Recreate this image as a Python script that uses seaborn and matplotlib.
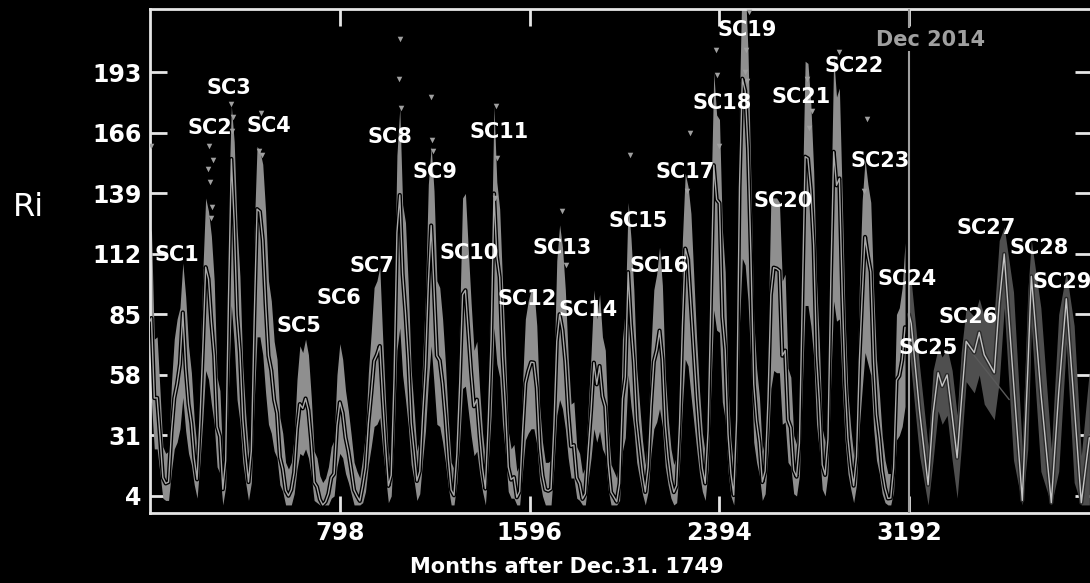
import matplotlib
matplotlib.use("Agg")
import matplotlib.pyplot as plt
import matplotlib.patheffects as pe
import seaborn as sns

# ---------------- data ----------------
years = list(range(1749, 2015))
ri_mean = [
    80.9, 83.4, 47.7, 47.8, 30.7, 12.2, 9.6, 10.2, 32.4, 47.6,
    54.0, 62.9, 85.9, 61.2, 45.1, 36.4, 20.9, 11.4, 37.8, 69.8,
    106.1, 100.8, 81.6, 66.5, 34.8, 30.6, 7.0, 19.8, 92.5, 154.4,
    125.9, 84.8, 68.1, 38.5, 22.8, 10.2, 24.1, 82.9, 132.0, 130.9,
    118.1, 89.9, 66.6, 60.0, 46.9, 41.0, 21.3, 16.0, 6.4, 4.1,
    6.8, 14.5, 34.0, 45.0, 43.1, 47.5, 42.2, 28.1, 10.1, 8.1,
    2.5, 0.0, 1.4, 5.0, 12.2, 13.9, 35.4, 45.8, 41.0, 30.1,
    23.9, 15.6, 6.6, 4.0, 1.8, 8.5, 16.6, 36.3, 49.6, 64.2,
    67.0, 70.9, 47.8, 27.5, 8.5, 13.2, 56.9, 121.5, 138.3, 103.2,
    85.7, 64.6, 36.7, 24.2, 10.7, 15.0, 40.1, 61.5, 98.5, 124.7,
    96.3, 66.6, 64.5, 54.1, 39.0, 20.6, 6.7, 4.3, 22.7, 54.8,
    93.8, 95.8, 77.2, 59.1, 44.0, 47.0, 30.5, 16.3, 7.3, 37.6,
    74.0, 139.0, 111.2, 101.6, 66.2, 44.7, 17.0, 11.3, 12.4, 3.4,
    6.0, 32.3, 54.3, 59.7, 63.7, 63.5, 52.2, 25.4, 13.1, 6.8,
    6.3, 7.1, 35.6, 73.0, 85.1, 78.0, 64.0, 41.8, 26.2, 26.7,
    12.1, 9.5, 2.7, 5.0, 24.4, 42.0, 63.5, 53.8, 62.0, 48.5,
    43.9, 18.6, 5.7, 3.6, 1.4, 9.6, 47.4, 57.1, 103.9, 80.6,
    63.6, 37.6, 26.1, 14.2, 5.8, 16.7, 44.3, 63.9, 69.0, 77.8,
    64.9, 35.7, 21.2, 11.1, 5.7, 8.7, 36.1, 79.7, 114.4, 109.6,
    88.8, 67.8, 47.5, 30.6, 16.3, 9.6, 33.2, 92.6, 151.6, 136.3,
    134.7, 83.9, 69.4, 31.5, 13.9, 4.4, 38.0, 141.7, 190.2, 184.8,
    159.0, 112.3, 53.9, 37.6, 27.9, 10.2, 15.1, 47.0, 93.8, 105.9,
    105.5, 104.5, 66.6, 68.9, 38.0, 34.5, 15.5, 12.6, 27.5, 92.5,
    155.4, 154.6, 140.4, 115.9, 66.6, 45.9, 17.9, 13.4, 29.4, 100.2,
    157.6, 142.6, 145.7, 94.3, 54.6, 29.9, 17.5, 8.6, 21.5, 64.3,
    93.3, 119.6, 111.0, 104.0, 63.7, 40.4, 29.8, 15.2, 7.5, 2.9,
    3.1, 16.5, 55.7, 57.6, 64.7, 79.3,
]
ri_low = [
    45, 46, 25, 25, 14, 3, 2, 2, 15, 25,
    28, 34, 48, 33, 23, 18, 9, 3, 19, 38,
    60, 56, 45, 36, 17, 14, 0, 8, 52, 89,
    72, 47, 37, 19, 10, 2, 10, 46, 75, 75,
    67, 50, 36, 32, 24, 21, 9, 6, 0, 0,
    0, 5, 16, 23, 22, 25, 21, 13, 2, 1,
    0, 0, 0, 0, 3, 4, 17, 23, 21, 14,
    10, 5, 0, 0, 0, 1, 6, 18, 26, 35,
    36, 39, 25, 13, 1, 4, 30, 69, 79, 58,
    47, 35, 18, 11, 2, 5, 20, 33, 55, 71,
    54, 36, 35, 28, 19, 8, 0, 0, 10, 29,
    52, 53, 42, 31, 22, 24, 14, 6, 0, 19,
    40, 79, 63, 57, 36, 23, 6, 3, 3, 0,
    0, 15, 29, 32, 34, 34, 27, 11, 4, 0,
    0, 0, 17, 40, 47, 43, 34, 21, 12, 12,
    3, 2, 0, 0, 11, 21, 34, 28, 33, 25,
    22, 7, 0, 0, 0, 2, 24, 30, 58, 44,
    34, 19, 12, 5, 0, 6, 23, 34, 37, 43,
    35, 17, 9, 3, 0, 1, 18, 44, 65, 62,
    49, 37, 25, 14, 6, 2, 16, 52, 87, 78,
    77, 46, 38, 15, 4, 0, 19, 81, 110, 107,
    91, 63, 28, 19, 13, 2, 5, 24, 52, 60,
    59, 59, 36, 37, 19, 17, 5, 4, 13, 52,
    89, 89, 80, 66, 36, 24, 7, 4, 14, 56,
    91, 82, 83, 53, 29, 14, 7, 1, 9, 35,
    52, 68, 63, 58, 34, 20, 14, 5, 1, 0,
    0, 6, 29, 31, 35, 44,
]
ri_high = [
    119, 123, 74, 75, 51, 26, 23, 24, 54, 74,
    83, 88, 108, 93, 71, 59, 38, 25, 61, 104,
    137, 131, 120, 100, 57, 51, 19, 37, 135, 178,
    162, 124, 102, 62, 41, 24, 43, 122, 160, 158,
    152, 131, 100, 91, 73, 65, 39, 32, 19, 16,
    19, 30, 56, 71, 68, 74, 67, 48, 24, 21,
    13, 10, 12, 17, 26, 29, 58, 72, 65, 51,
    42, 31, 19, 15, 12, 21, 32, 59, 77, 97,
    100, 106, 75, 47, 21, 28, 87, 156, 177, 134,
    126, 97, 60, 43, 24, 30, 64, 93, 143, 160,
    140, 100, 97, 83, 63, 38, 19, 16, 41, 84,
    137, 139, 114, 90, 69, 73, 51, 32, 20, 61,
    110, 178, 144, 132, 99, 70, 33, 25, 27, 15,
    18, 54, 83, 91, 96, 96, 80, 44, 28, 19,
    19, 20, 58, 109, 125, 115, 96, 66, 45, 46,
    26, 23, 14, 17, 43, 67, 96, 83, 94, 75,
    69, 35, 18, 15, 12, 23, 74, 87, 135, 119,
    96, 61, 45, 29, 18, 33, 70, 96, 103, 115,
    98, 58, 39, 25, 18, 22, 59, 118, 148, 142,
    130, 102, 74, 51, 32, 23, 55, 135, 193, 174,
    172, 123, 104, 53, 29, 16, 61, 181, 240, 233,
    202, 145, 83, 61, 48, 24, 30, 73, 137, 137,
    137, 135, 100, 103, 61, 57, 31, 27, 47, 135,
    198, 197, 179, 149, 100, 72, 34, 28, 50, 130,
    200, 182, 186, 137, 84, 50, 34, 22, 39, 97,
    136, 154, 143, 135, 96, 65, 50, 31, 20, 14,
    14, 32, 85, 88, 97, 117,
]

# isolated high monthly values standing out above the band
peak_months = [3, 243, 247, 251, 255, 260, 264, 340, 344, 348, 457, 466, 470,
               1048, 1050, 1055, 1181, 1185, 1189, 1450, 1454, 1458, 1732, 1749,
               2018, 2258, 2270, 2380, 2384, 2392, 2502, 2506, 2510, 2518,
               2762, 2771, 2783, 2897, 3002, 3015]
peak_values = [160, 150, 160, 144, 128, 133, 154, 179, 167, 173, 158, 175, 156,
               190, 208, 177, 182, 163, 158, 137, 178, 155, 131, 107,
               156, 140, 166, 203, 192, 160, 193, 203, 189, 220,
               190, 168, 176, 202, 140, 172]

# forecast after Dec 2014
fc_months = [3191, 3200, 3235, 3271, 3292, 3313, 3330, 3351, 3372, 3393, 3410,
             3431, 3465, 3486, 3507, 3549, 3570, 3591, 3630, 3667, 3690, 3705,
             3745, 3789, 3820, 3852, 3885, 3915, 3949]
fc_mid = [85, 81, 42, 9, 41, 59, 53, 58, 40, 21, 45,
          73, 68, 77, 67, 59, 90, 112, 55, 2, 60, 102,
          50, 1, 50, 92, 45, 1, 30]
fc_low = [70, 60, 22, 0, 20, 42, 36, 40, 20, 3, 25,
          55, 50, 58, 45, 38, 55, 88, 20, 0, 25, 80,
          15, 0, 15, 72, 10, 0, 0]
fc_high = [98, 100, 62, 26, 60, 70, 66, 70, 60, 40, 68,
           88, 84, 92, 84, 85, 118, 124, 95, 25, 95, 118,
           88, 25, 85, 104, 80, 22, 60]
trend_months = [3440, 3530, 3612]
trend_values = [70, 58, 47]

cycle_labels = ["SC%d" % i for i in range(1, 30)]
label_months = [112, 252, 331, 499, 626, 794, 933, 1008, 1198, 1341, 1467, 1585,
                1732, 1841, 2052, 2140, 2249, 2405, 2510, 2662, 2737, 2960, 3070,
                3183, 3272, 3440, 3515, 3738, 3835]
label_values = [111.6, 168.2, 186.1, 169.1, 79.9, 92.4, 106.6, 164.2, 148.6, 112.4,
                166.5, 91.9, 114.7, 87.0, 126.7, 106.6, 148.6, 179.4, 212.0, 135.7,
                182.0, 195.9, 153.5, 100.8, 70.0, 83.9, 123.6, 114.7, 99.5]

x_ticks = [798, 1596, 2394, 3192]
y_ticks = [4, 31, 58, 85, 112, 139, 166, 193]

# ---------------- style ----------------
sns.set_theme(style="dark", rc={
    "axes.facecolor": "black", "figure.facecolor": "black",
    "axes.edgecolor": "#e6e6e6", "axes.grid": False,
})
plt.rcParams["font.family"] = ["DejaVu Sans"]

W, H = 1090, 583
fig = plt.figure(figsize=(W / 100, H / 100), dpi=100)
ax = fig.add_axes([150 / W, 70 / H, 942 / W, 504 / H])
ax.set_facecolor("black")

months = [(y - 1750) * 12 + 6 for y in years]

ax.fill_between(months, ri_low, ri_high, color="#8f8f8f", lw=0, zorder=2)
sns.lineplot(x=months, y=ri_mean, ax=ax, color="#a8a8a8", lw=1.0, zorder=3,
             path_effects=[pe.Stroke(linewidth=3, foreground="black"), pe.Normal()])
sns.scatterplot(x=peak_months, y=peak_values, ax=ax, marker="v", s=16,
                color="#a0a0a0", linewidth=0, zorder=3)

ax.fill_between(fc_months, fc_low, fc_high, color="#4f4f4f", lw=0, zorder=2)
sns.lineplot(x=trend_months, y=trend_values, ax=ax, color="#5a5a5a", lw=1.0, zorder=2.5)
sns.lineplot(x=fc_months, y=fc_mid, ax=ax, color="#c4c4c4", lw=1.0, zorder=3,
             path_effects=[pe.Stroke(linewidth=3, foreground="#2a2a2a"), pe.Normal()])

ax.axvline(3190, color="#a0a0a0", lw=1.5, zorder=4)
ax.text(3052, 207.5, "Dec 2014", color="#a0a0a0", fontsize=15, fontweight="bold",
        ha="left", va="center", zorder=5,
        bbox=dict(facecolor="black", edgecolor="none", pad=1))

for lab, mx, vy in zip(cycle_labels, label_months, label_values):
    ax.text(mx, vy, lab, color="white", fontsize=15, fontweight="bold",
            ha="center", va="center", zorder=5)

ax.set_xlim(0, 3960)
ax.set_ylim(-3.6, 221.3)
ax.set_xticks(x_ticks)
ax.set_yticks(y_ticks)
ax.set_xticklabels([str(v) for v in x_ticks])
ax.set_yticklabels([str(v) for v in y_ticks])
ax.set_xlabel("")
ax.set_ylabel("")
ax.tick_params(axis="both", which="both", direction="in", length=12, width=2,
               color="#e6e6e6", labelcolor="white", labelsize=17,
               top=True, right=True, bottom=True, left=True, pad=6)
for lbl in ax.get_xticklabels() + ax.get_yticklabels():
    lbl.set_fontweight("bold")
for s in ax.spines.values():
    s.set_visible(True)
    s.set_color("#e6e6e6")
    s.set_linewidth(2)

fig.text(567 / W, 1 - 567 / H, "Months after Dec.31. 1749", color="white",
         fontsize=15, fontweight="bold", ha="center", va="center")
fig.text(28 / W, 1 - 207 / H, "Ri", color="white", fontsize=23,
         ha="center", va="center")

fig.savefig("out.png", dpi=100, facecolor="black")
